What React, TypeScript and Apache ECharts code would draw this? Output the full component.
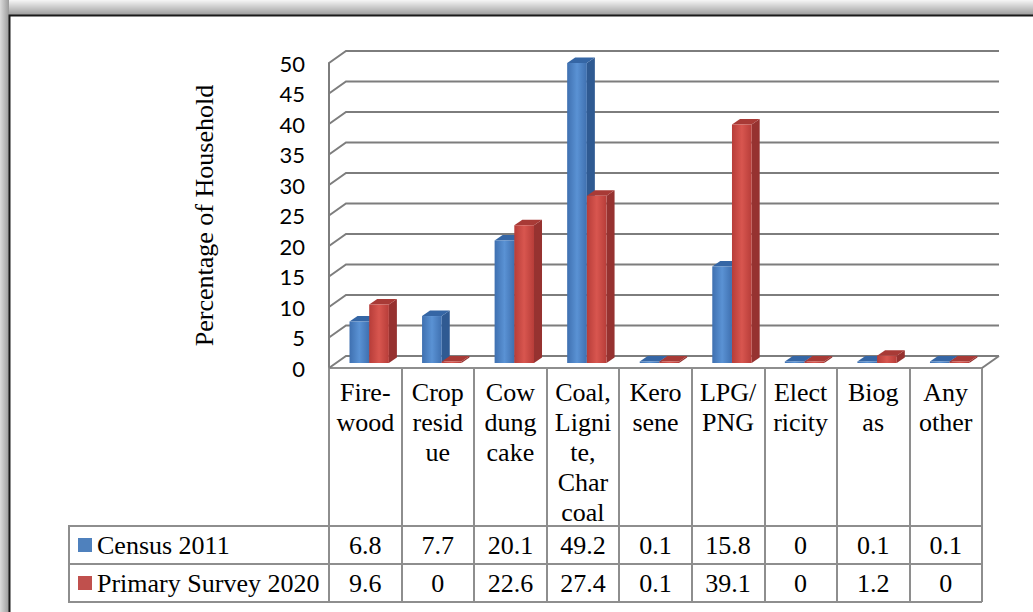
import React, { useEffect, useRef } from "react";
import * as echarts from "echarts";

// ---------- data ----------
const categories = [
  "Fire-\nwood",
  "Crop\nresid\nue",
  "Cow\ndung\ncake",
  "Coal,\nLigni\nte,\nChar\ncoal",
  "Kero\nsene",
  "LPG/\nPNG",
  "Elect\nricity",
  "Biog\nas",
  "Any\nother",
];
const seriesNames = ["Census 2011", "Primary Survey 2020"];
const census2011 = [6.8, 7.7, 20.1, 49.2, 0.1, 15.8, 0, 0.1, 0.1];
const survey2020 = [9.6, 0, 22.6, 27.4, 0.1, 39.1, 0, 1.2, 0];
const yTicks = [0, 5, 10, 15, 20, 25, 30, 35, 40, 45, 50];
const yAxisTitle = "Percentage of Household";

// ---------- styles ----------
const SERIF = "'Liberation Serif', 'Times New Roman', serif";
const SANS = "Lato, 'Open Sans', sans-serif";
const GRID_COLOR = "#7d7d7d";
const TABLE_COLOR = "#8e8e8e";
const WALL_DX = 17;
const WALL_DY = 12;
const BAR_W = 19.7;
const BAR_OFFSET = 20.5;
const BAR_LIFT = 5;
const BAR_DX = 8;
const BAR_DY = 5.5;

const palettes = [
  {
    legend: "#4F81BD",
    front: ["#3f70b0", "#5a92d4", "#3f70b0"],
    side: "#2f5a92",
    top: "#3566a5",
  },
  {
    legend: "#C0504D",
    front: ["#b73d39", "#d8564f", "#b73d39"],
    side: "#963230",
    top: "#a83a36",
  },
];

function gridRender(params: any, api: any) {
  const v = api.value(1);
  const cs = params.coordSys;
  const y = api.coord([0, v])[1];
  const x0 = cs.x;
  const x1 = cs.x + cs.width;
  const style = { stroke: GRID_COLOR, lineWidth: 2, fill: null };
  const children: any[] = [
    {
      type: "polyline",
      shape: { points: [[x0, y], [x0 + WALL_DX, y - WALL_DY], [x1 + WALL_DX, y - WALL_DY]] },
      style,
    },
  ];
  if (v === 0) {
    children.push({
      type: "line",
      shape: { x1: x1, y1: y, x2: x1 + WALL_DX, y2: y - WALL_DY },
      style,
    });
  }
  return { type: "group", children };
}

function makeBarRender(s: number) {
  const pal = palettes[s];
  return (params: any, api: any) => {
    const i = api.value(0);
    const v = api.value(1);
    const band = api.size([1, 0])[0];
    const base = api.coord([i, 0]);
    const top = api.coord([i, v]);
    const left = base[0] - band / 2 + BAR_OFFSET + s * BAR_W;
    const yb = base[1] - BAR_LIFT;
    let yt = top[1] - BAR_LIFT;
    if (yb - yt < 1.5) yt = yb - 1.5;
    const right = left + BAR_W;
    return {
      type: "group",
      children: [
        {
          type: "polygon",
          shape: {
            points: [
              [right, yt],
              [right + BAR_DX, yt - BAR_DY],
              [right + BAR_DX, yb - BAR_DY],
              [right, yb],
            ],
          },
          style: { fill: pal.side },
        },
        {
          type: "polygon",
          shape: {
            points: [
              [left, yt],
              [left + BAR_DX, yt - BAR_DY],
              [right + BAR_DX, yt - BAR_DY],
              [right, yt],
            ],
          },
          style: { fill: pal.top },
        },
        {
          type: "rect",
          shape: { x: left, y: yt, width: BAR_W, height: yb - yt },
          style: {
            fill: new echarts.graphic.LinearGradient(0, 0, 1, 0, [
              { offset: 0, color: pal.front[0] },
              { offset: 0.5, color: pal.front[1] },
              { offset: 1, color: pal.front[2] },
            ]),
          },
        },
      ],
    };
  };
}

const labelFont = {
  fontFamily: SERIF,
  fontSize: 26,
  lineHeight: 30,
  color: "#000",
};

export default function App() {
  const ref = useRef<HTMLDivElement>(null);

  useEffect(() => {
    if (!ref.current) return;
    const chart = echarts.init(ref.current, undefined, { renderer: "svg" });
    const valueRows = [census2011, survey2020];

    const option: any = {
      animation: false,
      backgroundColor: "#ffffff",
      grid: { left: 329, right: 51, top: 63, bottom: 244 },
      legend: {
        show: true,
        selectedMode: false,
        orient: "vertical",
        left: 78,
        top: 530,
        padding: 0,
        icon: "rect",
        itemWidth: 14,
        itemHeight: 14,
        itemGap: 8,
        data: seriesNames,
        textStyle: labelFont,
      },
      xAxis: [
        {
          type: "category",
          data: categories,
          position: "bottom",
          axisLine: { show: true, lineStyle: { color: TABLE_COLOR, width: 2 } },
          axisTick: {
            show: true,
            interval: 0,
            length: 234,
            lineStyle: { color: TABLE_COLOR, width: 2 },
          },
          axisLabel: { interval: 0, margin: 9, ...labelFont },
          splitLine: { show: false },
        },
        ...valueRows.map((row, r) => ({
          type: "category",
          data: categories,
          position: "bottom",
          offset: 0,
          axisLine: { show: false },
          axisTick: { show: false },
          splitLine: { show: false },
          axisLabel: {
            interval: 0,
            margin: r === 0 ? 162 : 200,
            formatter: (_: any, idx: number) => String(row[idx]),
            ...labelFont,
          },
        })),
      ],
      yAxis: {
        type: "value",
        min: 0,
        max: 50,
        interval: 5,
        name: yAxisTitle,
        nameLocation: "middle",
        nameRotate: 90,
        nameGap: 112,
        nameTextStyle: { fontFamily: SERIF, fontSize: 26, color: "#000" },
        axisLine: { show: true, lineStyle: { color: GRID_COLOR, width: 2 } },
        axisTick: { show: false },
        splitLine: { show: false },
        axisLabel: { margin: 24, fontFamily: SANS, fontSize: 22, color: "#000" },
      },
      series: [
        {
          type: "custom",
          name: "grid3d",
          xAxisIndex: 0,
          yAxisIndex: 0,
          data: yTicks.map((v) => [0, v]),
          renderItem: gridRender,
          silent: true,
          z: 1,
        },
        ...[census2011, survey2020].map((vals, s) => ({
          type: "custom",
          name: seriesNames[s],
          xAxisIndex: 0,
          yAxisIndex: 0,
          itemStyle: { color: palettes[s].legend },
          data: vals.map((v, i) => [i, v]),
          renderItem: makeBarRender(s),
          z: 2,
        })),
      ],
      graphic: [
        // frame shadow
        {
          type: "rect",
          shape: { x: 0, y: 0, width: 1033, height: 15 },
          style: {
            fill: new echarts.graphic.LinearGradient(0, 0, 0, 1, [
              { offset: 0, color: "#f6f6f6" },
              { offset: 1, color: "#9c9c9c" },
            ]),
          },
          z: 100,
        },
        {
          type: "rect",
          shape: { x: 0, y: 0, width: 9, height: 612 },
          style: {
            fill: new echarts.graphic.LinearGradient(0, 0, 1, 0, [
              { offset: 0, color: "#dcdcdc" },
              { offset: 1, color: "#9a9a9a" },
            ]),
          },
          z: 100,
        },
        {
          type: "polyline",
          shape: { points: [[1033, 15.5], [9.5, 15.5], [9.5, 612]] },
          style: { stroke: "#1a1a1a", lineWidth: 2, fill: null },
          z: 101,
        },
        // table lines
        {
          type: "polyline",
          shape: { points: [[329, 526], [69, 526], [69, 602], [329, 602]] },
          style: { stroke: TABLE_COLOR, lineWidth: 2, fill: null },
          z: 50,
        },
        {
          type: "line",
          shape: { x1: 69, y1: 526, x2: 982, y2: 526 },
          style: { stroke: TABLE_COLOR, lineWidth: 2 },
          z: 50,
        },
        {
          type: "line",
          shape: { x1: 69, y1: 564, x2: 982, y2: 564 },
          style: { stroke: TABLE_COLOR, lineWidth: 2 },
          z: 50,
        },
        {
          type: "line",
          shape: { x1: 69, y1: 602, x2: 982, y2: 602 },
          style: { stroke: TABLE_COLOR, lineWidth: 2 },
          z: 50,
        },
      ],
    };

    chart.setOption(option);
    return () => chart.dispose();
  }, []);

  return (
    <div
      ref={ref}
      style={{ position: "fixed", left: 0, top: 0, width: 1033, height: 612 }}
    />
  );
}
